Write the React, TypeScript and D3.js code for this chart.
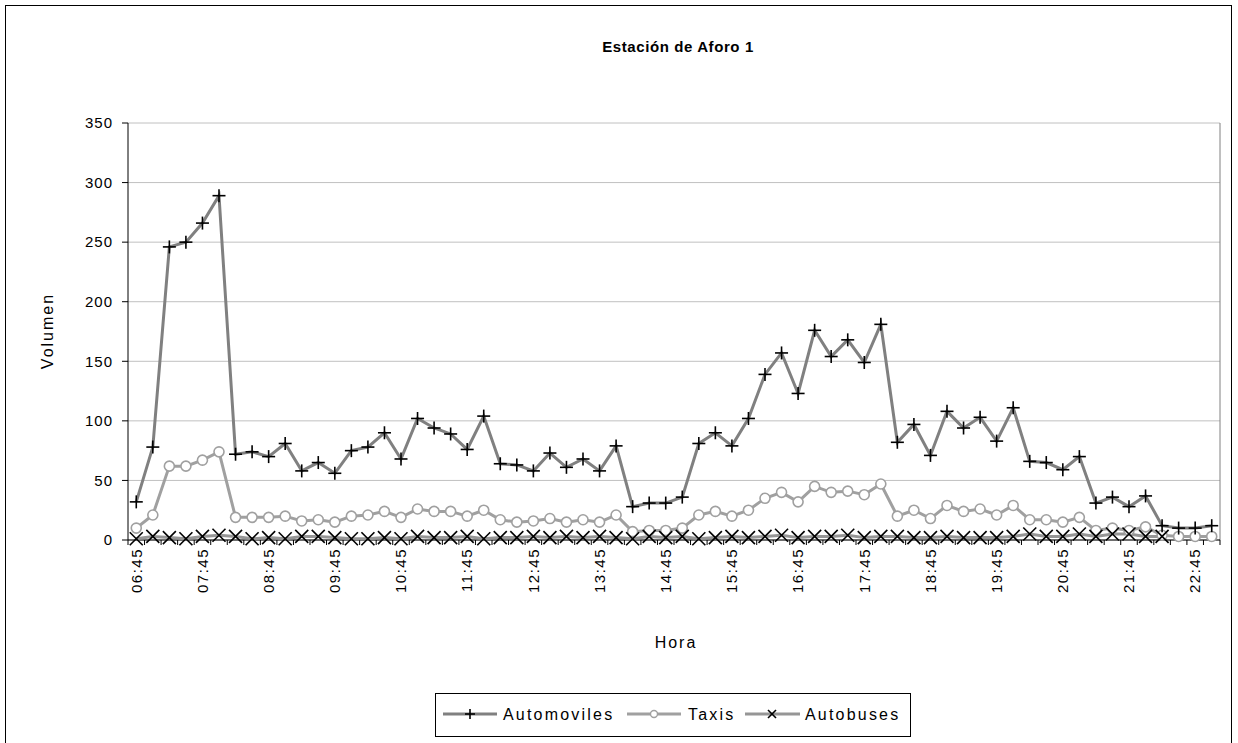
import React from "react";
import * as d3 from "d3";

const categories: string[] = [
  "06:45","07:00","07:15","07:30","07:45","08:00","08:15","08:30","08:45","09:00","09:15","09:30",
  "09:45","10:00","10:15","10:30","10:45","11:00","11:15","11:30","11:45","12:00","12:15","12:30",
  "12:45","13:00","13:15","13:30","13:45","14:00","14:15","14:30","14:45","15:00","15:15","15:30",
  "15:45","16:00","16:15","16:30","16:45","17:00","17:15","17:30","17:45","18:00","18:15","18:30",
  "18:45","19:00","19:15","19:30","19:45","20:00","20:15","20:30","20:45","21:00","21:15","21:30",
  "21:45","22:00","22:15","22:30","22:45","23:00"
];

const automoviles: number[] = [
  32, 78, 246, 250, 266, 289, 72, 74, 70, 81, 58, 65, 56, 75, 78, 90, 68, 102, 94,
  89, 76, 104, 64, 63, 58, 73, 61, 68, 58, 79, 28, 31, 31, 36, 81, 90, 79,
  102, 139, 157, 123, 176, 154, 168, 149, 181, 82, 97, 71, 108, 94, 103,
  83, 111, 66, 65, 59, 70, 31, 36, 28, 37, 12, 10, 10, 12
];

const taxis: number[] = [
  10, 21, 62, 62, 67, 74, 19, 19, 19, 20, 16, 17, 15, 20, 21, 24, 19, 26, 24,
  24, 20, 25, 17, 15, 16, 18, 15, 17, 15, 21, 7, 8, 8, 10, 21, 24, 20,
  25, 35, 40, 32, 45, 40, 41, 38, 47, 20, 25, 18, 29, 24, 26,
  21, 29, 17, 17, 15, 19, 8, 10, 8, 11, 4, 3, 3, 3
];

const autobuses: (number | null)[] = [
  1, 3, 2, 1, 3, 4, 3, 1, 2, 1, 3, 3, 2, 1, 1, 2, 1, 3, 2,
  2, 3, 1, 2, 2, 3, 2, 3, 2, 3, 2, 1, 3, 2, 3, 1, 2, 3,
  2, 3, 4, 2, 3, 3, 4, 2, 3, 3, 2, 2, 3, 2, 2,
  2, 3, 5, 3, 3, 5, 3, 5, 5, 3, 3, null, null, null
];

const yTicks: number[] = [0, 50, 100, 150, 200, 250, 300, 350];

const FONT = "'Liberation Sans', Arial, sans-serif";

function Plus({ x, y, s }: { x: number; y: number; s: number }) {
  return (
    <g stroke="#000" strokeWidth={1.6}>
      <line x1={x - s} y1={y} x2={x + s} y2={y} />
      <line x1={x} y1={y - s} x2={x} y2={y + s} />
    </g>
  );
}

function Cross({ x, y, s }: { x: number; y: number; s: number }) {
  return (
    <g stroke="#000" strokeWidth={1.6}>
      <line x1={x - s} y1={y - s} x2={x + s} y2={y + s} />
      <line x1={x - s} y1={y + s} x2={x + s} y2={y - s} />
    </g>
  );
}

export default function App() {
  const W = 1238;
  const H = 743;
  const left = 128;
  const right = 1220;
  const top = 123;
  const bottom = 540;

  const x = d3.scaleBand<string>().domain(categories).range([left, right]).padding(0);
  const y = d3.scaleLinear().domain([0, 350]).range([bottom, top]);
  const cx = (i: number) => (x(categories[i]) as number) + x.bandwidth() / 2;

  const line = d3
    .line<number | null>()
    .defined((d) => d !== null)
    .x((_, i) => cx(i))
    .y((d) => y(d as number));

  const autoColor = "#808080";
  const taxiColor = "#a0a0a0";
  const busColor = "#969696";

  return (
    <svg
      width={W}
      height={H}
      style={{ position: "absolute", left: 0, top: 0, display: "block", background: "#fff" }}
      fontFamily={FONT}
    >
      <rect x={0} y={0} width={W} height={H} fill="#fff" />
      <rect x={5.5} y={5.5} width={1226} height={760} fill="none" stroke="#000" strokeWidth={1} />

      <text x={678} y={52} textAnchor="middle" fontSize={15} fontWeight="bold" letterSpacing={0.6} fill="#000">
        Estación de Aforo 1
      </text>

      {/* gridlines */}
      {yTicks.map((t) => (
        <line key={t} x1={left} x2={right} y1={y(t)} y2={y(t)} stroke="#c0c0c0" strokeWidth={1} />
      ))}
      {/* right plot border */}
      <line x1={right} x2={right} y1={top} y2={bottom} stroke="#808080" strokeWidth={1} />

      {/* y axis */}
      <line x1={left} x2={left} y1={top} y2={bottom} stroke="#000" strokeWidth={1} />
      {yTicks.map((t) => (
        <g key={"yt" + t}>
          <line x1={left - 6} x2={left} y1={y(t)} y2={y(t)} stroke="#000" />
          <text x={113} y={y(t)} dy="0.35em" textAnchor="end" fontSize={15} letterSpacing={1} fill="#000">
            {t}
          </text>
        </g>
      ))}

      {/* x axis */}
      <line x1={left} x2={right} y1={bottom} y2={bottom} stroke="#000" strokeWidth={1} />
      {categories.map((c) => (
        <line
          key={"xt" + c}
          x1={x(c) as number}
          x2={x(c) as number}
          y1={bottom}
          y2={bottom + 5}
          stroke="#000"
        />
      ))}
      <line x1={right} x2={right} y1={bottom} y2={bottom + 5} stroke="#000" />
      {categories.map((c, i) =>
        i % 4 === 0 ? (
          <text
            key={"xl" + c}
            transform={`translate(${cx(i)},${548}) rotate(-90)`}
            textAnchor="end"
            dy="0.35em"
            fontSize={15}
            letterSpacing={1.5}
            fill="#000"
          >
            {c}
          </text>
        ) : null
      )}

      {/* axis titles */}
      <text transform={`translate(47,331) rotate(-90)`} textAnchor="middle" dy="0.35em" fontSize={16} letterSpacing={2} fill="#000">
        Volumen
      </text>
      <text x={676} y={648} textAnchor="middle" fontSize={16} letterSpacing={2} fill="#000">
        Hora
      </text>

      {/* series lines */}
      <path d={line(autobuses) ?? ""} fill="none" stroke={busColor} strokeWidth={3} />
      <path d={line(taxis) ?? ""} fill="none" stroke={taxiColor} strokeWidth={3} />
      <path d={line(automoviles) ?? ""} fill="none" stroke={autoColor} strokeWidth={3} />

      {/* markers */}
      {taxis.map((v, i) => (
        <circle key={"tm" + i} cx={cx(i)} cy={y(v)} r={5} fill="#fff" stroke={taxiColor} strokeWidth={1.6} />
      ))}
      {autobuses.map((v, i) =>
        v === null ? null : <Cross key={"bm" + i} x={cx(i)} y={y(v)} s={6.5} />
      )}
      {automoviles.map((v, i) => (
        <Plus key={"am" + i} x={cx(i)} y={y(v)} s={6.5} />
      ))}

      {/* legend */}
      <rect x={435.5} y={693.5} width={475} height={43} fill="#fff" stroke="#000" strokeWidth={1} />
      <line x1={443} x2={497} y1={714} y2={714} stroke={autoColor} strokeWidth={3} />
      <Plus x={470} y={714} s={5} />
      <text x={503} y={714} dy="0.35em" fontSize={16} letterSpacing={2.2} fill="#000">Automoviles</text>

      <line x1={627} x2={681} y1={714} y2={714} stroke={taxiColor} strokeWidth={3} />
      <circle cx={654} cy={714} r={3.5} fill="#fff" stroke={taxiColor} strokeWidth={1.4} />
      <text x={688} y={714} dy="0.35em" fontSize={16} letterSpacing={2.2} fill="#000">Taxis</text>

      <line x1={745} x2={800} y1={714} y2={714} stroke={busColor} strokeWidth={3} />
      <Cross x={772} y={714} s={4} />
      <text x={805} y={714} dy="0.35em" fontSize={16} letterSpacing={2.2} fill="#000">Autobuses</text>
    </svg>
  );
}
